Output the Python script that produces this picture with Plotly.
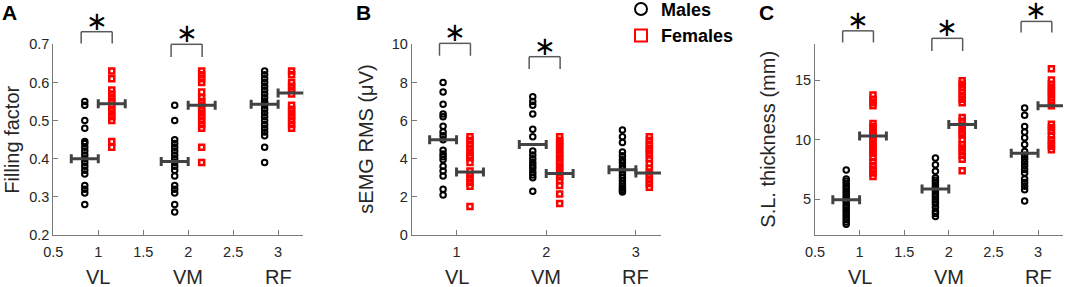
import plotly.graph_objects as go

# ---------------- data ----------------
categories = ["VL", "VM", "RF"]
cat_x = [1, 2, 3]

# Panel A: Filling factor
ff_m_vl = [0.55, 0.54, 0.50, 0.48, 0.445, 0.44, 0.43, 0.42, 0.41, 0.40, 0.39, 0.38, 0.37, 0.36, 0.33, 0.32, 0.31, 0.28]
ff_m_vm = [0.54, 0.50, 0.45, 0.44, 0.43, 0.42, 0.41, 0.40, 0.39, 0.38, 0.37, 0.355, 0.33, 0.32, 0.31, 0.28, 0.26]
ff_m_rf = [0.63, 0.62, 0.61, 0.60, 0.59, 0.58, 0.57, 0.56, 0.55, 0.545, 0.54, 0.53, 0.52, 0.51, 0.50, 0.49, 0.48, 0.47, 0.46, 0.43, 0.39]
ff_f_vl = [0.63, 0.61, 0.58, 0.57, 0.56, 0.55, 0.54, 0.53, 0.52, 0.51, 0.50, 0.445, 0.43]
ff_f_vm = [0.63, 0.62, 0.61, 0.60, 0.575, 0.56, 0.55, 0.54, 0.53, 0.52, 0.51, 0.50, 0.49, 0.48, 0.43, 0.39]
ff_f_rf = [0.63, 0.62, 0.60, 0.59, 0.58, 0.57, 0.54, 0.53, 0.52, 0.51, 0.50, 0.49, 0.48]
ff_m_mean = [0.400, 0.393, 0.543]
ff_f_mean = [0.544, 0.540, 0.572]

# Panel B: sEMG RMS (uV)
emg_m_vl = [8.0, 7.5, 6.85, 6.35, 6.2, 5.7, 5.4, 5.2, 5.0, 4.45, 4.25, 4.1, 3.95, 3.6, 3.35, 3.1, 2.4, 2.1]
emg_m_vm = [7.25, 7.0, 6.8, 6.35, 5.55, 5.15, 4.4, 4.2, 4.0, 3.8, 3.65, 3.5, 3.3, 3.15, 3.0, 2.3]
emg_m_rf = [5.5, 5.15, 4.85, 4.35, 4.15, 3.95, 3.8, 3.6, 3.45, 3.3, 3.15, 3.0, 2.85, 2.7, 2.55, 2.45, 2.35, 2.25]
emg_f_vl = [5.15, 4.95, 4.75, 4.55, 4.35, 4.15, 4.05, 3.8, 3.35, 3.15, 2.95, 2.75, 2.55, 1.5]
emg_f_vm = [5.15, 4.95, 4.8, 4.65, 4.5, 4.3, 4.15, 4.0, 3.8, 3.6, 3.45, 3.25, 3.05, 2.85, 2.6, 2.15, 1.65]
emg_f_rf = [5.15, 4.95, 4.75, 4.55, 4.4, 4.2, 4.0, 3.75, 3.5, 3.3, 3.1, 2.9, 2.7, 2.5]
emg_m_mean = [5.0, 4.75, 3.42]
emg_f_mean = [3.3, 3.22, 3.25]

# Panel C: S.L. thickness (mm)
sl_m_vl = [7.45, 6.7, 6.5, 6.3, 6.1, 5.9, 5.7, 5.5, 5.3, 5.1, 4.9, 4.7, 4.5, 4.3, 4.1, 3.9, 3.7, 3.5, 3.3, 3.1, 2.9]
sl_m_vm = [8.45, 7.9, 7.35, 6.8, 6.6, 6.4, 6.2, 6.0, 5.8, 5.6, 5.4, 5.2, 5.0, 4.8, 4.6, 4.3, 4.0, 3.8, 3.55]
sl_m_rf = [12.65, 12.05, 11.1, 10.65, 10.15, 9.6, 9.0, 8.7, 8.4, 8.1, 7.8, 7.5, 7.2, 6.7, 6.4, 6.1, 5.8, 4.85]
sl_f_vl = [13.75, 13.4, 13.1, 12.85, 11.35, 11.1, 10.85, 10.55, 10.3, 10.0, 9.7, 9.4, 9.1, 8.85, 8.5, 8.15, 7.8, 7.5, 7.2, 6.9]
sl_f_vm = [14.95, 14.65, 14.35, 14.0, 13.7, 13.4, 13.1, 11.85, 11.55, 11.2, 10.9, 10.6, 10.4, 10.0, 9.6, 9.3, 9.0, 8.7, 8.35, 7.4]
sl_f_rf = [15.95, 15.0, 14.65, 14.35, 14.05, 13.8, 13.5, 13.15, 12.85, 11.3, 11.0, 10.7, 10.35, 10.0, 9.7, 9.45, 9.15]
sl_m_mean = [4.95, 5.85, 8.85]
sl_f_mean = [10.3, 11.27, 12.85]

# significance brackets: (category index, top level, leg end level)
sig_A = [(0, 0.733, 0.702), (1, 0.700, 0.667)]
sig_B = [(0, 10.05, 9.40), (1, 9.35, 8.70)]
sig_C = [(0, 19.13, 18.15), (1, 18.50, 17.44), (2, 19.92, 18.99)]

# ---------------- layout constants ----------------
W, H = 1065, 287
FONT = "Liberation Sans, Arial, sans-serif"
TXT = "#262626"
AX = "#7a7a7a"
BAR = "#424242"
OFF = 0.15

panels = [
    dict(letter="A", title="Filling factor", males=[ff_m_vl, ff_m_vm, ff_m_rf], females=[ff_f_vl, ff_f_vm, ff_f_rf],
         mm=ff_m_mean, fm=ff_f_mean, yr=[0.2, 0.7], yt=[0.2, 0.3, 0.4, 0.5, 0.6, 0.7],
         ytt=["0.2", "0.3", "0.4", "0.5", "0.6", "0.7"], xt=[0.5, 1, 1.5, 2, 2.5, 3],
         xpx=(53.3, 303.3), titlex=12, letterx=0, sig=sig_A),
    dict(letter="B", title="sEMG RMS (μV)", males=[emg_m_vl, emg_m_vm, emg_m_rf], females=[emg_f_vl, emg_f_vm, emg_f_rf],
         mm=emg_m_mean, fm=emg_f_mean, yr=[0, 10], yt=[0, 2, 4, 6, 8, 10],
         ytt=["0", "2", "4", "6", "8", "10"], xt=[1, 2, 3],
         xpx=(411.7, 661.0), titlex=366, letterx=354, sig=sig_B),
    dict(letter="C", title="S.L. thickness (mm)", males=[sl_m_vl, sl_m_vm, sl_m_rf], females=[sl_f_vl, sl_f_vm, sl_f_rf],
         mm=sl_m_mean, fm=sl_f_mean, yr=[2, 18], yt=[5, 10, 15],
         ytt=["5", "10", "15"], xt=[0.5, 1, 1.5, 2, 2.5, 3],
         xpx=(815.0, 1063.0), titlex=768, letterx=757, sig=sig_C),
]
XR = [0.5, 3.28]
YPX = (44.3, 235.0)
ydom = [(H - YPX[1]) / H, (H - YPX[0]) / H]

fig = go.Figure()
shapes = []
annotations = []

for i, p in enumerate(panels):
    xa = "x" if i == 0 else f"x{i+1}"
    ya = "y" if i == 0 else f"y{i+1}"
    xkey = "xaxis" if i == 0 else f"xaxis{i+1}"
    ykey = "yaxis" if i == 0 else f"yaxis{i+1}"

    # scatter of individuals
    for j, cx in enumerate(cat_x):
        mv = p["males"][j]
        fv = p["females"][j]
        fig.add_trace(go.Scatter(
            x=[cx - OFF] * len(mv), y=mv, mode="markers", xaxis=xa, yaxis=ya,
            marker=dict(symbol="circle-open", size=5.5, color="black", line=dict(width=2, color="black")),
            name="<b>Males</b>", legendgroup="m", showlegend=(i == 1 and j == 0), cliponaxis=False))
        fig.add_trace(go.Scatter(
            x=[cx + OFF] * len(fv), y=fv, mode="markers", xaxis=xa, yaxis=ya,
            marker=dict(symbol="square-open", size=5, color="#ff0000", line=dict(width=2.5, color="#ff0000")),
            name="<b>Females</b>", legendgroup="f", showlegend=(i == 1 and j == 0), cliponaxis=False))
    # means with horizontal bars
    fig.add_trace(go.Scatter(
        x=[c - OFF for c in cat_x] + [c + OFF for c in cat_x], y=p["mm"] + p["fm"],
        mode="markers", xaxis=xa, yaxis=ya, showlegend=False,
        marker=dict(size=1, opacity=0),
        error_x=dict(type="constant", value=OFF, color=BAR, thickness=3, width=4.5)))

    x0 = p["xpx"][0] / W
    x1 = p["xpx"][1] / W
    fig.update_layout({
        xkey: dict(domain=[x0, x1], range=XR, anchor=ya, showline=True, linecolor=AX, linewidth=1,
                   ticks="inside", ticklen=5, tickcolor=AX, tickvals=p["xt"], automargin=False,
                   ticktext=[f"{v:g}" for v in p["xt"]], showgrid=False, zeroline=False,
                   ticklabelstandoff=4,
                   tickfont=dict(family=FONT, size=14.5, color=TXT)),
        ykey: dict(domain=ydom, range=p["yr"], anchor=xa, showline=True, linecolor=AX, linewidth=1,
                   ticks="inside", ticklen=5, tickcolor=AX, tickvals=p["yt"], ticktext=p["ytt"],
                   showgrid=False, zeroline=False, automargin=False,
                   tickfont=dict(family=FONT, size=14.5, color=TXT)),
    })

    # significance brackets (domain refs so they are drawn outside the plot area)
    r0, r1 = p["yr"]
    def yd(v):
        return (v - r0) / (r1 - r0)
    def xd(v):
        return (v - XR[0]) / (XR[1] - XR[0])
    for (k, top, leg) in p["sig"]:
        bx0 = cat_x[k] - 0.19
        bx1 = cat_x[k] + 0.155
        ln = dict(color="#5a5a5a", width=1.5)
        for (ax0, ay0, ax1, ay1) in [(bx0, leg, bx0, top), (bx0, top, bx1, top), (bx1, top, bx1, leg)]:
            shapes.append(dict(type="line", xref=f"{xa} domain", yref=f"{ya} domain",
                               x0=xd(ax0), y0=yd(ay0), x1=xd(ax1), y1=yd(ay1), line=ln))
        annotations.append(dict(text="∗", x=xd((bx0 + bx1) / 2), y=yd(top), xref=f"{xa} domain", yref=f"{ya} domain",
                                xanchor="center", yanchor="middle", yshift=11, showarrow=False,
                                font=dict(family="DejaVu Sans", size=26, color="black")))

    # y title
    annotations.append(dict(text=p["title"], x=p["titlex"] / W, y=sum(ydom) / 2, xref="paper", yref="paper",
                            textangle=-90, xanchor="center", yanchor="middle", showarrow=False,
                            font=dict(family=FONT, size=20, color=TXT)))
    # panel letter
    annotations.append(dict(text=f"<b>{p['letter']}</b>", x=p["letterx"] / W, y=1.005, xref="paper", yref="paper",
                            xanchor="left", yanchor="top", showarrow=False,
                            font=dict(family=FONT, size=21, color="black")))
    # category labels
    for c, lab in zip(cat_x, categories):
        annotations.append(dict(text=lab, x=c, y=(H - 277) / H, xref=xa, yref="paper",
                                xanchor="center", yanchor="middle", showarrow=False,
                                font=dict(family=FONT, size=20, color=TXT)))

fig.update_layout(
    width=W, height=H, margin=dict(l=0, r=0, t=0, b=0, autoexpand=False),
    paper_bgcolor="white", plot_bgcolor="white",
    shapes=shapes, annotations=annotations,
    showlegend=True,
    legend=dict(x=621 / W, y=1.032, xanchor="left", yanchor="top", bgcolor="rgba(0,0,0,0)",
                font=dict(family=FONT, size=18, color="black"), tracegroupgap=0, itemsizing="constant"),
)

fig.write_html("out.html", config={"displayModeBar": False},
               post_script="document.body.style.margin='0';document.body.style.padding='0';document.body.style.overflow='hidden';")
